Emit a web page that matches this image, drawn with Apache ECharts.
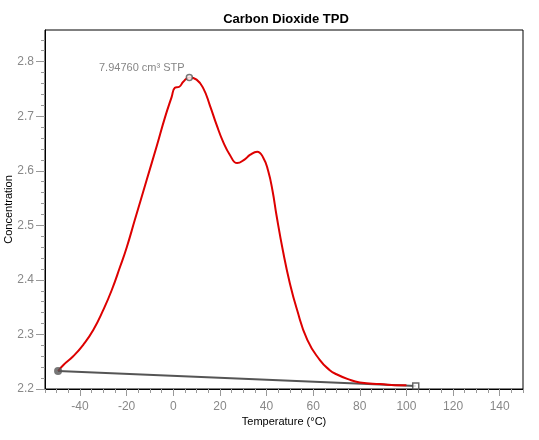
<!DOCTYPE html>
<html>
<head>
<meta charset="utf-8">
<script src="https://cdn.jsdelivr.net/npm/echarts@6/dist/echarts.min.js"></script>
<style>html,body{margin:0;padding:0;background:#fff}#c{width:539px;height:440px}</style>
</head>
<body>
<div id="c"></div>
<script>
var temperature = [-49.4,-47.1,-42.9,-38.6,-34.3,-30,-26.4,-22.8,-20,-16.4,-11.4,-7.1,-3.6,-0.7,0.7,2.6,4.3,6.9,10,12.9,15.7,18.6,21.4,24.3,27.4,30.7,32.9,36,38.6,40.7,42.6,44.3,47.1,50,52.9,57.5,62.9,67,70,75,80,88.6,98.6,100];
var concentration = [2.233,2.244,2.260,2.281,2.308,2.345,2.381,2.424,2.459,2.511,2.583,2.645,2.697,2.735,2.752,2.754,2.763,2.771,2.767,2.751,2.720,2.684,2.653,2.629,2.614,2.621,2.629,2.635,2.624,2.600,2.563,2.518,2.452,2.394,2.348,2.290,2.253,2.235,2.227,2.218,2.212,2.209,2.207,2.207];
var baselineStart = [-49.4, 2.233];
var baselineEnd = [104, 2.2055];
var peakPoint = [6.9, 2.771];
var peakLabel = '7.94760 cm³ STP';
var xMajorTicks = [-40,-20,0,20,40,60,80,100,120,140];
var xMinorTicks = [-55,-50,-45,-35,-30,-25,-15,-10,-5,5,10,15,25,30,35,45,50,55,65,70,75,85,90,95,105,110,115,125,130,135,145,150];
var yMajorTicks = [2.2,2.3,2.4,2.5,2.6,2.7,2.8];
var yMinorTicks = [2.22,2.24,2.26,2.28,2.32,2.34,2.36,2.38,2.42,2.44,2.46,2.48,2.52,2.54,2.56,2.58,2.62,2.64,2.66,2.68,2.72,2.74,2.76,2.78,2.82,2.84,2.86];
var xRange = [-55, 150];
var yRange = [2.2, 2.858];

var curve = temperature.map(function(t, i){ return [t, concentration[i]]; });
var chart = echarts.init(document.getElementById('c'));
var font = 'Arial, "Liberation Sans", sans-serif';
chart.setOption({
  animation: false,
  title: {
    text: 'Carbon Dioxide TPD', left: 281, top: 8, textAlign: 'center',
    textStyle: {fontFamily: font, fontSize: 13, fontWeight: 'bold', color: '#000'}
  },
  grid: {left: 45, right: 16, top: 30, bottom: 51, show: true, borderColor: '#000', borderWidth: 1,
    containLabel: false, outerBoundsMode: 'none'},
  xAxis: [{
    type: 'value', min: xRange[0], max: xRange[1],
    name: 'Temperature (°C)', nameLocation: 'middle', nameGap: 27, nameMoveOverlap: false,
    nameTextStyle: {fontFamily: font, fontSize: 11, color: '#000'},
    axisLine: {onZero: false, lineStyle: {color: '#000', width: 1}},
    axisTick: {customValues: xMajorTicks, length: 7, lineStyle: {color: '#999'}},
    axisLabel: {customValues: xMajorTicks, margin: 12, fontFamily: font, fontSize: 12, color: '#888'},
    splitLine: {show: false}
  }, {
    type: 'value', min: xRange[0], max: xRange[1], position: 'bottom',
    axisLine: {show: false, onZero: false},
    axisTick: {customValues: xMinorTicks, length: 4, lineStyle: {color: '#999'}},
    axisLabel: {show: false}, splitLine: {show: false}
  }],
  yAxis: [{
    type: 'value', min: yRange[0], max: yRange[1],
    name: 'Concentration', nameLocation: 'middle', nameGap: 31, nameMoveOverlap: false,
    nameTextStyle: {fontFamily: font, fontSize: 11, color: '#000'},
    axisLine: {show: true, onZero: false, lineStyle: {color: '#000', width: 1}},
    axisTick: {show: true, customValues: yMajorTicks, length: 9, lineStyle: {color: '#999'}},
    axisLabel: {customValues: yMajorTicks, margin: 11, fontFamily: font, fontSize: 12, color: '#888',
      formatter: function(v){ return v.toFixed(1); }},
    splitLine: {show: false}
  }, {
    type: 'value', min: yRange[0], max: yRange[1], position: 'left',
    axisLine: {show: false, onZero: false},
    axisTick: {show: true, customValues: yMinorTicks, length: 4, lineStyle: {color: '#999'}},
    axisLabel: {show: false}, splitLine: {show: false}
  }],
  series: [{
    type: 'line', data: [baselineStart, baselineEnd], symbol: 'none',
    lineStyle: {color: '#555', width: 2}, z: 2
  }, {
    type: 'line', data: curve, smooth: 0.5, symbol: 'none',
    lineStyle: {color: '#dd0000', width: 2}, z: 3
  }, {
    type: 'scatter', data: [baselineStart], symbol: 'circle', symbolSize: 8,
    itemStyle: {color: '#555'}, z: 5
  }, {
    type: 'scatter', data: [baselineEnd], symbol: 'rect', symbolSize: 6,
    itemStyle: {color: '#fff', borderColor: '#444', borderWidth: 1.5}, z: 5
  }, {
    type: 'scatter', data: [peakPoint], symbol: 'circle', symbolSize: 6,
    itemStyle: {color: '#fff', borderColor: '#555', borderWidth: 1.5}, z: 5,
    label: {show: true, position: 'left', distance: 3, offset: [2, -9],
      formatter: function(){ return peakLabel; },
      fontFamily: font, fontSize: 11, color: '#666'}
  }]
});
</script>
</body>
</html>
